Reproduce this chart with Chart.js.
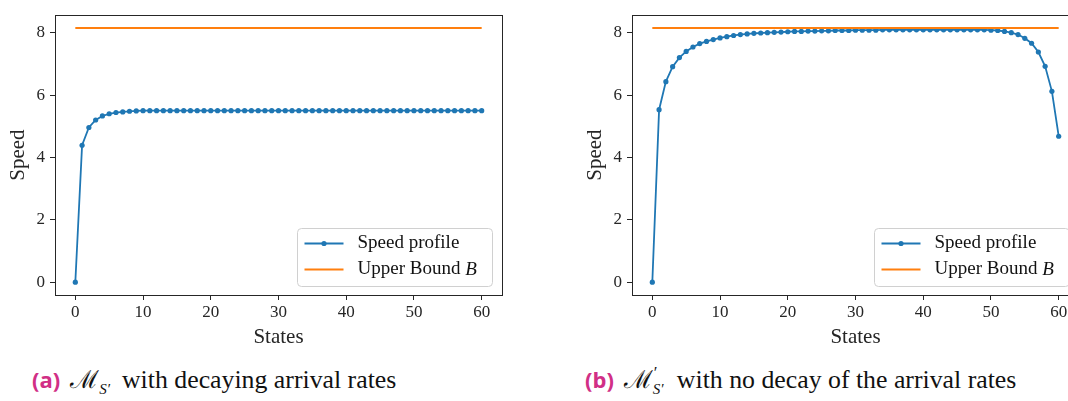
<!DOCTYPE html>
<html>
<head>
<meta charset="utf-8">
<script src="https://cdn.jsdelivr.net/npm/chart.js@4.4.1/dist/chart.umd.min.js"></script>
<style>
    html, body { margin: 0; padding: 0; background: #fff; overflow: hidden; }
    body { width: 1068px; height: 401px; position: relative; }
    .plot { position: absolute; top: 0; width: 520px; height: 350px; }
    .caption {
        position: absolute; top: 364px; white-space: nowrap; line-height: 30px;
        font-family: "Liberation Serif", serif; font-size: 25.8px; color: #111;
    }
    .tag { font-family: "Open Sans", sans-serif; font-size: 22px; font-weight: bold; color: #d12f86; margin-right: 10px; }
    .cal { font-family: "DejaVu Serif", serif; font-size: 25px; }
    .sub { font-style: italic; font-size: 15px; position: relative; top: 6px; margin-right: 12px; }
    .stack { display: inline-block; position: relative; width: 16px; height: 0; margin-right: 8px; }
    .stack .p { position: absolute; left: 1px; top: -24px; font-size: 17px; line-height: 17px; }
    .stack .s { position: absolute; left: 0; top: -6px; font-style: italic; font-size: 15px; line-height: 15px; }
</style>
</head>
<body>

<div class="plot" style="left:0px"><canvas id="chartA" width="520" height="350"></canvas></div>
<div class="plot" style="left:577px"><canvas id="chartB" width="520" height="350"></canvas></div>

<div class="caption" style="left:32px">
    <span class="tag">(a)</span><span class="cal">ℳ</span><span class="sub">S′</span>with decaying arrival rates
</div>
<div class="caption" style="left:585px">
    <span class="tag">(b)</span><span class="cal">ℳ</span><span class="stack"><span class="p">′</span><span class="s">S′</span></span>with no decay of the arrival rates
</div>

<script>
// ================= DATA =================
const states = [
    0, 1, 2, 3, 4, 5, 6, 7, 8, 9,
    10, 11, 12, 13, 14, 15, 16, 17, 18, 19,
    20, 21, 22, 23, 24, 25, 26, 27, 28, 29,
    30, 31, 32, 33, 34, 35, 36, 37, 38, 39,
    40, 41, 42, 43, 44, 45, 46, 47, 48, 49,
    50, 51, 52, 53, 54, 55, 56, 57, 58, 59,
    60
];

// (a) decaying arrival rates
const speedDecay = [
    0, 4.39, 4.96, 5.20, 5.33, 5.40, 5.44, 5.46, 5.48, 5.49,
    5.50, 5.50, 5.50, 5.50, 5.50, 5.50, 5.50, 5.50, 5.50, 5.50,
    5.50, 5.50, 5.50, 5.50, 5.50, 5.50, 5.50, 5.50, 5.50, 5.50,
    5.50, 5.50, 5.50, 5.50, 5.50, 5.50, 5.50, 5.50, 5.50, 5.50,
    5.50, 5.50, 5.50, 5.50, 5.50, 5.50, 5.50, 5.50, 5.50, 5.50,
    5.50, 5.50, 5.50, 5.50, 5.50, 5.50, 5.50, 5.50, 5.50, 5.50,
    5.50
];

// (b) no decay of the arrival rates
const speedNoDecay = [
    0, 5.53, 6.43, 6.91, 7.20, 7.40, 7.54, 7.65, 7.72, 7.78,
    7.83, 7.87, 7.91, 7.94, 7.96, 7.98, 7.99, 8.00, 8.01, 8.02,
    8.03, 8.04, 8.04, 8.05, 8.05, 8.06, 8.06, 8.07, 8.07, 8.07,
    8.08, 8.08, 8.08, 8.08, 8.09, 8.09, 8.09, 8.09, 8.09, 8.09,
    8.09, 8.09, 8.09, 8.09, 8.09, 8.09, 8.09, 8.09, 8.09, 8.09,
    8.08, 8.07, 8.04, 8.00, 7.94, 7.82, 7.66, 7.38, 6.92, 6.12,
    4.68
];

const boundStates = [0, 60];
const boundValues = [8.15, 8.15];

const xTicks = [0, 10, 20, 30, 40, 50, 60];
const yTicks = [0, 2, 4, 6, 8];

const BLUE = "#1f77b4";
const ORANGE = "#ff7f0e";
const INK = "#262626";
const SERIF = "'Liberation Serif', serif";

// ================= HELPERS =================
const $ = (id) => document.getElementById(id);
const toPoints = (xs, ys) => xs.map((x, i) => ({ x: x, y: ys[i] }));

// ================= PLUGINS =================
const framePlugin = {
    id: "frame",
    afterDatasetsDraw(chart) {
        const a = chart.chartArea;
        const ctx = chart.ctx;
        ctx.save();
        ctx.strokeStyle = INK;
        ctx.lineWidth = 1;
        ctx.strokeRect(Math.round(a.left) + 0.5, Math.round(a.top) + 0.5,
            Math.round(a.right - a.left), Math.round(a.bottom - a.top));
        ctx.restore();
    }
};

const boxLegendPlugin = {
    id: "boxLegend",
    afterDraw(chart) {
        const a = chart.chartArea;
        const ctx = chart.ctx;
        const w = 195, h = 58;
        const left = Math.round(a.right - 10 - w) + 0.5;
        const top = Math.round(a.bottom - 9 - h) + 0.5;

        ctx.save();
        ctx.beginPath();
        ctx.roundRect(left, top, w, h, 4);
        ctx.fillStyle = "rgba(255,255,255,0.8)";
        ctx.fill();
        ctx.strokeStyle = "#d0d0d0";
        ctx.lineWidth = 1;
        ctx.stroke();

        const rows = [
            { color: BLUE, marker: true, text: "Speed profile", italic: "" },
            { color: ORANGE, marker: false, text: "Upper Bound ", italic: "B" }
        ];

        rows.forEach((r, i) => {
            const y = top + 15 + i * 26;
            ctx.strokeStyle = r.color;
            ctx.lineWidth = 2;
            ctx.beginPath();
            ctx.moveTo(left + 7, y);
            ctx.lineTo(left + 46, y);
            ctx.stroke();
            if (r.marker) {
                ctx.fillStyle = r.color;
                ctx.beginPath();
                ctx.arc(left + 26.5, y, 2.6, 0, Math.PI * 2);
                ctx.fill();
            }
            ctx.fillStyle = "#111";
            ctx.textBaseline = "middle";
            ctx.font = "19px " + SERIF;
            ctx.fillText(r.text, left + 60, y);
            if (r.italic) {
                const tw = ctx.measureText(r.text).width;
                ctx.font = "italic 19px " + SERIF;
                ctx.fillText(r.italic, left + 60 + tw, y);
            }
        });
        ctx.restore();
    }
};

// ================= CHART =================
function renderSpeedChart(id, speedValues) {

    const ctx = $(id)?.getContext("2d");
    if (!ctx) return null;

    return new Chart(ctx, {
        type: "line",
        data: {
            datasets: [
                {
                    label: "Speed profile",
                    data: toPoints(states, speedValues),
                    borderColor: BLUE,
                    backgroundColor: BLUE,
                    borderWidth: 1.8,
                    pointRadius: 2.6,
                    pointBorderWidth: 0,
                    pointBackgroundColor: BLUE,
                    tension: 0,
                    order: 1
                },
                {
                    label: "Upper Bound B",
                    data: toPoints(boundStates, boundValues),
                    borderColor: ORANGE,
                    borderWidth: 2,
                    pointRadius: 0,
                    tension: 0,
                    order: 0
                }
            ]
        },
        plugins: [framePlugin, boxLegendPlugin],
        options: {
            responsive: false,
            animation: false,
            layout: { padding: { top: 5, right: 18, left: 0, bottom: 0 } },
            plugins: {
                legend: { display: false },
                tooltip: { enabled: false }
            },
            scales: {
                x: {
                    type: "linear",
                    min: -3,
                    max: 63,
                    afterBuildTicks: (scale) => { scale.ticks = xTicks.map(v => ({ value: v })); },
                    afterFit: (scale) => { scale.height = 55; },
                    grid: { drawOnChartArea: false, drawTicks: true, tickLength: 5, color: INK },
                    border: { display: false },
                    ticks: {
                        autoSkip: false, maxRotation: 0, padding: 2,
                        color: INK, font: { family: SERIF, size: 17 }
                    },
                    title: {
                        display: true, text: "States", color: INK,
                        font: { family: SERIF, size: 21 },
                        padding: { top: 1, bottom: 0 }
                    }
                },
                y: {
                    min: -0.41,
                    max: 8.56,
                    afterBuildTicks: (scale) => { scale.ticks = yTicks.map(v => ({ value: v })); },
                    afterFit: (scale) => { scale.width = 55; },
                    grid: { drawOnChartArea: false, drawTicks: true, tickLength: 5, color: INK },
                    border: { display: false },
                    ticks: {
                        padding: 5,
                        color: INK, font: { family: SERIF, size: 17 }
                    },
                    title: {
                        display: true, text: "Speed", color: INK,
                        font: { family: SERIF, size: 21 },
                        padding: { top: 6, bottom: 0 }
                    }
                }
            }
        }
    });
}

// ================= INIT =================
renderSpeedChart("chartA", speedDecay);
renderSpeedChart("chartB", speedNoDecay);
</script>
</body>
</html>
